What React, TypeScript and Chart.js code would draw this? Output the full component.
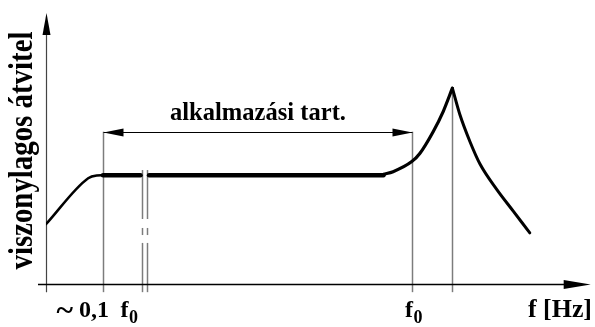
import { useEffect, useRef } from "react";
import { Chart, registerables } from "chart.js";

Chart.register(...registerables);

// ---- data (abstract units: x = frequency axis 0..100, y = relative transfer 0..100)
const riseX = [0, 7.9, 9.5, 10.67];
const riseY = [22, 38.9, 39.9, 40];
const plateauAX = [10.67, 17.7];
const plateauBX = [19.3, 63.2];
const plateauLevel = 40;
const resonanceUpX = [63.2, 65, 68.5, 70, 72.5, 74.4, 76.1];
const resonanceUpY = [40.3, 41.3, 45, 48, 56, 63.5, 72];
const resonanceDownX = [76.1, 77.5, 79.4, 81.3, 84.4, 87.5, 90.6];
const resonanceDownY = [72, 62.3, 52.3, 44, 34.8, 26.8, 18.8];

// marker positions
const lowLimitX = 10.67; // ~0,1 f0
const breakXs = [17.98, 19.0];
const f0X = 68.54;
const peakX = 76.1;
const peakY = 72;
const rangeArrowY = 56;
const breakTopY = 41.9;
const breakSegments = [
  [-3, 15.1],
  [18.0, 20.6],
  [23.9, 41.9],
];
const tickBottomY = -3;
const xAxisStart = -1.5;
const xAxisEnd = 102;
const yAxisTop = 99.6;

// texts
const yTitle = "viszonylagos átvitel";
const rangeLabel = "alkalmazási tart.";
const unitLabel = "f [Hz]";
const lowTickParts = ["~", "0,1", "f", "0"];
const f0TickParts = ["f", "0"];

const zip = (xs: number[], ys: number[]) => xs.map((x, i) => ({ x, y: ys[i] }));

const FONT = "'Liberation Serif', 'Times New Roman', serif";

function scaledText(
  ctx: CanvasRenderingContext2D,
  text: string,
  x: number,
  y: number,
  size: number,
  targetWidth: number,
  align: CanvasTextAlign
) {
  ctx.font = `bold ${size}px ${FONT}`;
  const w = ctx.measureText(text).width;
  const s = targetWidth / w;
  ctx.save();
  ctx.translate(x, y);
  ctx.scale(s, 1);
  ctx.textAlign = align;
  ctx.textBaseline = "alphabetic";
  ctx.fillText(text, 0, 0);
  ctx.restore();
}

function plainText(
  ctx: CanvasRenderingContext2D,
  text: string,
  x: number,
  y: number,
  size: number
): number {
  ctx.font = `bold ${size}px ${FONT}`;
  ctx.textAlign = "left";
  ctx.textBaseline = "alphabetic";
  ctx.fillText(text, x, y);
  return ctx.measureText(text).width;
}

function seg(ctx: CanvasRenderingContext2D, x1: number, y1: number, x2: number, y2: number) {
  ctx.beginPath();
  ctx.moveTo(x1, y1);
  ctx.lineTo(x2, y2);
  ctx.stroke();
}

function arrowHead(
  ctx: CanvasRenderingContext2D,
  tipX: number,
  tipY: number,
  dirX: number,
  dirY: number,
  len: number,
  half: number
) {
  const bx = tipX - dirX * len;
  const by = tipY - dirY * len;
  const nx = -dirY;
  const ny = dirX;
  ctx.beginPath();
  ctx.moveTo(tipX, tipY);
  ctx.lineTo(bx + nx * half, by + ny * half);
  ctx.lineTo(bx - nx * half, by - ny * half);
  ctx.closePath();
  ctx.fill();
}

const schematicPlugin = {
  id: "schematic",
  beforeDatasetsDraw(chart: any) {
    const { ctx } = chart;
    const xs = chart.scales.x;
    const ys = chart.scales.y;
    const px = (v: number) => Math.round(xs.getPixelForValue(v)) + 0.5;
    const py = (v: number) => ys.getPixelForValue(v);
    ctx.save();
    ctx.strokeStyle = "#7c7c7c";
    ctx.lineWidth = 1.5;
    seg(ctx, px(lowLimitX), py(tickBottomY), px(lowLimitX), py(rangeArrowY));
    seg(ctx, px(f0X), py(tickBottomY), px(f0X), py(rangeArrowY));
    seg(ctx, px(peakX), py(tickBottomY), px(peakX), py(peakY));
    breakXs.forEach((bx) => {
      breakSegments.forEach(([a, b]) => seg(ctx, px(bx), py(a), px(bx), py(Math.min(b, breakTopY))));
    });
    // y axis
    ctx.strokeStyle = "#444";
    ctx.lineWidth = 1.2;
    seg(ctx, px(0), py(tickBottomY), px(0), py(yAxisTop) + 10);
    // x axis
    ctx.strokeStyle = "#000";
    ctx.lineWidth = 1.3;
    const ay = Math.round(py(0)) + 0.5;
    seg(ctx, xs.getPixelForValue(xAxisStart), ay, xs.getPixelForValue(xAxisEnd) - 10, ay);
    ctx.restore();
  },
  afterDatasetsDraw(chart: any) {
    const { ctx } = chart;
    const xs = chart.scales.x;
    const ys = chart.scales.y;
    const px = (v: number) => xs.getPixelForValue(v);
    const py = (v: number) => ys.getPixelForValue(v);
    ctx.save();
    ctx.fillStyle = "#000";
    ctx.strokeStyle = "#000";
    // axis arrow heads
    arrowHead(ctx, Math.round(px(0)) + 0.5, py(yAxisTop), 0, -1, 22, 4);
    arrowHead(ctx, px(xAxisEnd), Math.round(py(0)) + 0.5, 1, 0, 27, 4.5);
    // range dimension line
    const ry = Math.round(py(rangeArrowY)) + 0.5;
    const rx1 = Math.round(px(lowLimitX)) + 0.5;
    const rx2 = Math.round(px(f0X)) + 0.5;
    ctx.lineWidth = 1.2;
    seg(ctx, rx1, ry, rx2, ry);
    arrowHead(ctx, rx1, ry, -1, 0, 20, 4);
    arrowHead(ctx, rx2, ry, 1, 0, 20, 4);
    // range label
    scaledText(ctx, rangeLabel, (rx1 + rx2) / 2, ry - 13, 26, 176, "center");
    // y title
    ctx.save();
    ctx.translate(31.5, (py(yAxisTop) + py(0)) / 2 + 2);
    ctx.rotate(-Math.PI / 2);
    scaledText(ctx, yTitle, 0, 0, 34, 238, "center");
    ctx.restore();
    // tick labels
    const base = py(0) + 33;
    const lx = px(lowLimitX);
    scaledText(ctx, lowTickParts[0], lx - 46.5, base + 3, 30, 16.5, "left");
    plainText(ctx, lowTickParts[1], lx - 24, base, 24);
    const fw = plainText(ctx, lowTickParts[2], lx + 17.5, base, 24);
    plainText(ctx, lowTickParts[3], lx + 17.5 + fw + 0.5, base + 6, 18);
    const fx = px(f0X);
    const fw2 = plainText(ctx, f0TickParts[0], fx - 7, base, 24);
    plainText(ctx, f0TickParts[1], fx - 7 + fw2 + 0.5, base + 6, 18);
    scaledText(ctx, unitLabel, 592, base, 25, 64, "right");
    ctx.restore();
  },
};

export default function App() {
  const canvasRef = useRef<HTMLCanvasElement | null>(null);

  useEffect(() => {
    document.body.style.margin = "0";
    const canvas = canvasRef.current;
    if (!canvas) return;
    const line = (data: { x: number; y: number }[], width: number) => ({
      data,
      showLine: true,
      borderColor: "#000",
      backgroundColor: "#000",
      borderWidth: width,
      pointRadius: 0,
      fill: false,
      cubicInterpolationMode: "monotone" as const,
      borderCapStyle: "round" as const,
      borderJoinStyle: "round" as const,
    });
    const chart = new Chart(canvas, {
      type: "scatter",
      data: {
        datasets: [
          line(zip(riseX, riseY), 2.5),
          line(zip(plateauAX, plateauAX.map(() => plateauLevel)), 4.5),
          line(zip(plateauBX, plateauBX.map(() => plateauLevel)), 4.5),
          line(zip(resonanceUpX, resonanceUpY), 3.2),
          line(zip(resonanceDownX, resonanceDownY), 3),
        ],
      },
      options: {
        animation: false,
        responsive: false,
        events: [],
        layout: { padding: { left: 46, right: 15, top: 12, bottom: 43 } },
        plugins: { legend: { display: false }, tooltip: { enabled: false } },
        scales: {
          x: { type: "linear", min: 0, max: 100, display: false },
          y: { type: "linear", min: 0, max: 100, display: false },
        },
      },
      plugins: [schematicPlugin],
    });
    return () => chart.destroy();
  }, []);

  return (
    <div style={{ position: "absolute", left: 0, top: 0, width: 595, height: 327, background: "#fff" }}>
      <canvas ref={canvasRef} width={595} height={327} style={{ width: 595, height: 327 }} />
    </div>
  );
}
